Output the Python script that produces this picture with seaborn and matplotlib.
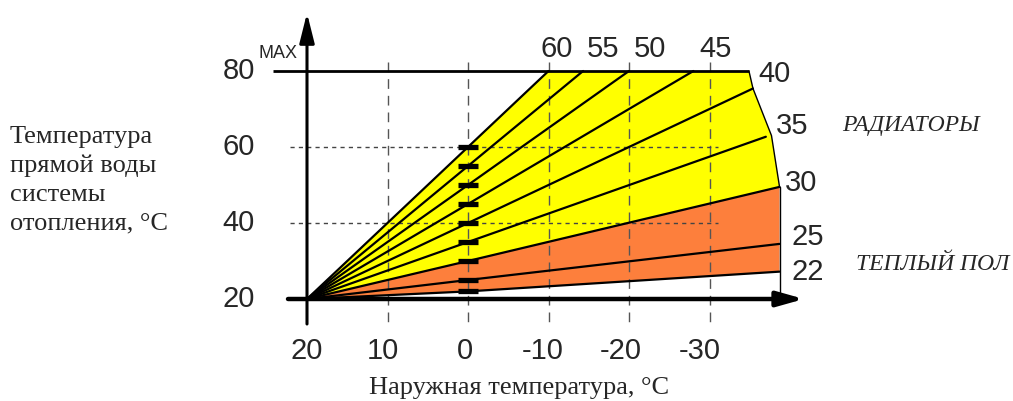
import numpy as np
import pandas as pd
import matplotlib
matplotlib.use("Agg")
import matplotlib.pyplot as plt
import seaborn as sns
from matplotlib.patches import ArrowStyle

# ---------------- data ----------------
curve_labels = [60, 55, 50, 45, 40, 35, 30, 25, 22]          # flow temp at 0 °C outdoor
start_outdoor = 20
start_flow = 20
curve_end_outdoor = [-10, -14.3, -20, -28, -35.4, -37.0, -38.7, -38.7, -38.7]
curve_end_flow = [80, 80, 80, 80, 75.4, 62.7, 49.5, 34.5, 27.2]
edge_outdoor = [-34.9, -35.4, -37.7, -38.7]                  # right boundary of the yellow zone
edge_flow = [80, 75.4, 63.0, 49.5]
x_ticks = [20, 10, 0, -10, -20, -30]
y_ticks = [20, 40, 60, 80]
guide_levels = [40, 60]
max_flow = 80

# ---------------- figure / pixel mapping ----------------
W, H, DPI = 1013, 401, 100
X0PX, PXX = 307, 8.05      # t=20 at px 307, 8.05 px per degree
Y0PX, PXY = 299, 3.8       # T=20 at px 299, 3.8 px per degree


def tx(px):
    return 20 - (px - X0PX) / PXX


def ty(py):
    return 20 + (Y0PX - py) / PXY


sns.set_theme(style="white")
plt.rcParams["font.family"] = ["Liberation Sans", "DejaVu Sans"]

fig = plt.figure(figsize=(W / DPI, H / DPI), dpi=DPI)
ax = fig.add_axes([0, 0, 1, 1])
ax.set_xlim(tx(0), tx(W))
ax.set_ylim(ty(H), ty(0))
ax.axis("off")

# curves table
rows = []
for lab, te, fe in zip(curve_labels, curve_end_outdoor, curve_end_flow):
    rows.append((lab, start_outdoor, start_flow, 0))
    rows.append((lab, 0, lab, 1))
    rows.append((lab, te, fe, 2))
df = pd.DataFrame(rows, columns=["curve", "outdoor", "flow", "order"])

c60 = df[df.curve == 60]
c30 = df[df.curve == 30]
c22 = df[df.curve == 22]

# yellow zone
yx = list(c60.outdoor) + edge_outdoor + list(c30.outdoor[::-1])
yy = list(c60.flow) + edge_flow + list(c30.flow[::-1])
ax.fill(yx, yy, color="#FFFF00", lw=0, zorder=1)
# orange zone
ox = list(c30.outdoor) + list(c22.outdoor[::-1])
oy = list(c30.flow) + list(c22.flow[::-1])
ax.fill(ox, oy, color="#FD7F3C", lw=0, zorder=1)

# dashed vertical guides
for t in x_ticks[1:]:
    ax.plot([t, t], [ty(62), ty(324)], color="#555555", lw=1.0,
            dashes=(7, 5), zorder=2)
# dotted horizontal guides
for v in guide_levels:
    ax.plot([tx(290), tx(718)], [v, v], color="#444444", lw=1.0,
            dashes=(3, 3), zorder=2)

# curves
sns.lineplot(data=df, x="outdoor", y="flow", units="curve", estimator=None,
             sort=False, color="black", lw=1.6, ax=ax, zorder=3, legend=False)

# right boundary
ax.plot(edge_outdoor, edge_flow, color="black", lw=1.0, zorder=3)
ax.plot([edge_outdoor[-1], edge_outdoor[-1]], [edge_flow[-1], start_flow],
        color="black", lw=1.0, zorder=3)

# MAX line
ax.plot([tx(273), edge_outdoor[0]], [max_flow, max_flow], color="black",
        lw=2.0, zorder=4, solid_capstyle="butt")

# markers at 0 °C
ax.plot([0] * len(curve_labels), curve_labels, ls="none", marker="_",
        markersize=14, markeredgewidth=3.8, color="black", zorder=5)

# axes with arrows
ax.annotate("", xy=(start_outdoor, ty(13)), xytext=(start_outdoor, ty(324)),
            arrowprops=dict(arrowstyle=ArrowStyle("-|>", head_length=1.8, head_width=0.45),
                            color="black", lw=2.2, mutation_scale=10, shrinkA=0, shrinkB=0),
            zorder=6)
ax.annotate("", xy=(tx(804), start_flow), xytext=(tx(288), start_flow),
            arrowprops=dict(arrowstyle=ArrowStyle("-|>", head_length=1.6, head_width=0.45),
                            color="black", lw=3.2, mutation_scale=10, shrinkA=0, shrinkB=0),
            zorder=6)

num_fs = 21
# y tick labels
for v in y_ticks:
    ax.text(tx(239), v, str(v), fontsize=num_fs, ha="center", va="center")
ax.text(tx(259), ty(53), "MAX", fontsize=13, ha="left", va="center")

# x tick labels (small leftward nudges as in the original)
x_label_nudge = [0, -5, -3, -6, -8, -10]
for t, dx in zip(x_ticks, x_label_nudge):
    ax.annotate(str(t), xy=(t, ty(351)), xytext=(dx, 0),
                textcoords="offset pixels", fontsize=num_fs, ha="center", va="center")

# curve labels
label_offsets = [(8, -22), (20, -22), (21, -22), (22, -22), (22, -14),
                 (26, -11), (22, -4), (28, -7), (28, 0)]
for lab, te, fe, (dx, dy) in zip(curve_labels, curve_end_outdoor, curve_end_flow, label_offsets):
    ax.annotate(str(lab), xy=(te, fe), xytext=(dx, -dy), textcoords="offset pixels",
                fontsize=num_fs, ha="center", va="center")

serif = ["Liberation Serif", "DejaVu Serif"]
ax.text(tx(10), ty(180), "Температура\nпрямой воды\nсистемы\nотопления, °C",
        family=serif, fontsize=19, ha="left", va="center", linespacing=1.38)
ax.text(tx(369), ty(388), "Наружная температура, °C", family=serif,
        fontsize=19, ha="left", va="center")
ax.text(tx(911), ty(126), "РАДИАТОРЫ", family=serif, style="italic",
        fontsize=17, ha="center", va="center")
ax.text(tx(933), ty(265), "ТЕПЛЫЙ ПОЛ", family=serif, style="italic",
        fontsize=17, ha="center", va="center")

fig.savefig("out.png", dpi=DPI, facecolor="white")
